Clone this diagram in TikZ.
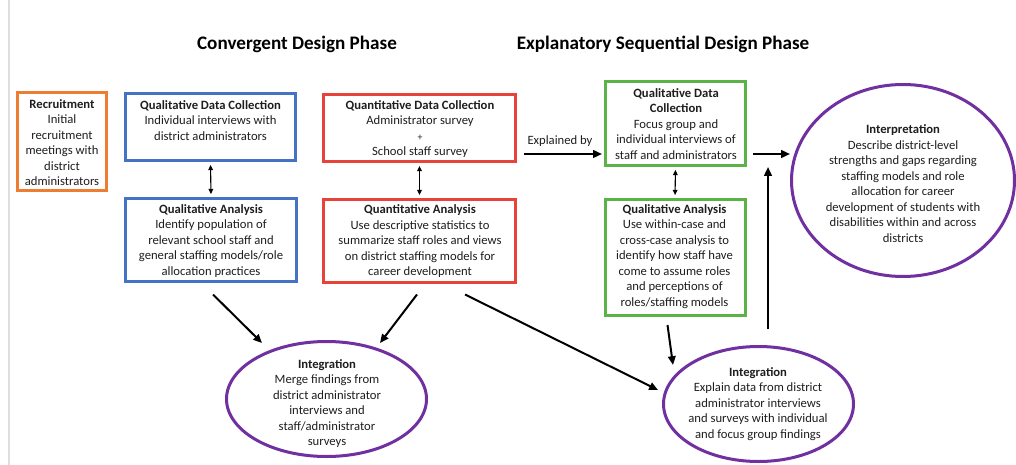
\documentclass[tikz,border=0pt]{standalone}
\usepackage{fontspec}
\setmainfont{Carlito}
\usetikzlibrary{shapes.geometric,arrows.meta,calc}
\def\pxu{*0.025cm}
\definecolor{corange}{HTML}{ED7D31}
\definecolor{cblue}{HTML}{4472C4}
\definecolor{cred}{HTML}{E8433B}
\definecolor{cgreen}{HTML}{5BB347}
\definecolor{cpurple}{HTML}{7030A0}
\definecolor{ctext}{HTML}{1E1E1E}
\begin{document}
\begin{tikzpicture}[x=0.025cm,y=-0.025cm,
  box/.style={draw=#1, line width=3\pxu, rectangle, inner sep=0pt},
  oval/.style={draw=cpurple, line width=3\pxu, ellipse, inner sep=0pt},
  body/.style={font=\fontsize{9}{11}\selectfont, align=center, inner sep=0pt, text=ctext},
  phase/.style={font=\fontsize{13.6}{16}\selectfont\bfseries, inner sep=0pt, text=black},
  arr/.style={line width=2\pxu, -{Triangle[length=0.22cm,width=0.19cm]}},
  dbl/.style={line width=1.1\pxu, {Triangle[length=0.13cm,width=0.12cm]}-{Triangle[length=0.13cm,width=0.12cm]},
    shorten <=3\pxu, shorten >=3\pxu}
]
\useasboundingbox (0,0) rectangle (1016,465);
\fill[white] (0,0) rectangle (1016,465);
\draw[gray!25, line width=2\pxu] (9,0) -- (9,465);

% phase headings
\node[phase] (hconv) at (297,44) {Convergent Design Phase};
\node[phase] (hexpl) at (663,44) {Explanatory Sequential Design Phase};

% frames
\node[box=corange, minimum width=89\pxu, minimum height=98\pxu] (recr) at (62,141.5) {};
\node[box=cblue, minimum width=170\pxu, minimum height=67\pxu] (bdc) at (210.5,127) {};
\node[box=cblue, minimum width=171\pxu, minimum height=83\pxu] (bqa) at (211,240) {};
\node[box=cred, minimum width=192\pxu, minimum height=67\pxu] (rdc) at (419.5,128) {};
\node[box=cred, minimum width=192\pxu, minimum height=83\pxu] (rqa) at (419.5,241) {};
\node[box=cgreen, minimum width=140\pxu, minimum height=84\pxu] (gdc) at (675.5,123.5) {};
\node[box=cgreen, minimum width=140\pxu, minimum height=116\pxu] (gqa) at (675,257.5) {};
\node[oval, minimum width=223\pxu, minimum height=192\pxu] (interp) at (903,180.5) {};
\node[oval, minimum width=200\pxu, minimum height=115\pxu] (integA) at (326.5,399) {};
\node[oval, minimum width=190\pxu, minimum height=115\pxu] (integB) at (758.5,404) {};

% texts
\node[body] (trecr) at (62,142.5) {\textbf{Recruitment}\\Initial\\recruitment\\meetings with\\district\\administrators};
\node[body] (tbdc) at (210.5,120.5) {\textbf{Qualitative Data Collection}\\Individual interviews with\\district administrators};
\node[body] (tbqa) at (211,241) {\textbf{Qualitative Analysis}\\Identify population of\\relevant school staff and\\general staffing models/role\\allocation practices};
\node[body] (trdc) at (420,129) {\textbf{Quantitative Data Collection}\\Administrator survey\\{\fontsize{7}{11}\selectfont +}\\School staff survey};
\node[body] (trqa) at (420,241.5) {\textbf{Quantitative Analysis}\\Use descriptive statistics to\\summarize staff roles and views\\on district staffing models for\\career development};
\node[body] (tgdc) at (676,124) {\textbf{Qualitative Data}\\\textbf{Collection}\\Focus group and\\individual interviews of\\staff and administrators};
\node[body] (tgqa) at (674.5,256.5) {\textbf{Qualitative Analysis}\\Use within-case and\\cross-case analysis to\\identify how staff have\\come to assume roles\\and perceptions of\\roles/staffing models};
\node[body] (tinterp) at (903,183.5) {\textbf{Interpretation}\\Describe district-level\\strengths and gaps regarding\\staffing models and role\\allocation for career\\development of students with\\disabilities within and across\\districts};
\node[body] (tintegA) at (327,403.5) {\textbf{Integration}\\Merge findings from\\district administrator\\interviews and\\staff/administrator\\surveys};
\node[body] (tintegB) at (758,404) {\textbf{Integration}\\Explain data from district\\administrator interviews\\and surveys with individual\\and focus group findings};

% two-way links inside each strand
\draw[dbl] (bdc.south) -- (bqa.north);
\draw[dbl] (rdc.south) -- (rqa.north);
\draw[dbl] (gdc.south) -- (gqa.north);

% explained by
\coordinate (eb) at ($(rdc.east)+(7,26)$);
\draw[arr, shorten >=2\pxu] (eb) -- (eb -| gdc.west);
\node[body] (lbl) at (560,141) {Explained by};

% to interpretation
\coordinate (gi) at ($(gdc.east)+(6,30.5)$);
\draw[arr] (gi) -- (gi -| interp.west);
\coordinate (up) at ($(gi)+(15,13)$);
\draw[arr] ($(integB.north)+(9.5,-16)$) -- (up);

% into the integration ovals
\draw[arr] ($(bqa.south)+(2,11.5)$) -- ($(integA.center)+(-64.5,-56)$);
\draw[arr] ($(rqa.south)+(-2.5,10.5)$) -- ($(integA.center)+(53.5,-56)$);
\draw[arr] ($(rqa.south)+(45.5,10.5)$) -- ($(integB.center)+(-100.5,-14)$);
\draw[arr] ($(gqa.south)+(-7.5,8)$) -- ($(integB.center)+(-85.5,-39)$);
\end{tikzpicture}
\end{document}
